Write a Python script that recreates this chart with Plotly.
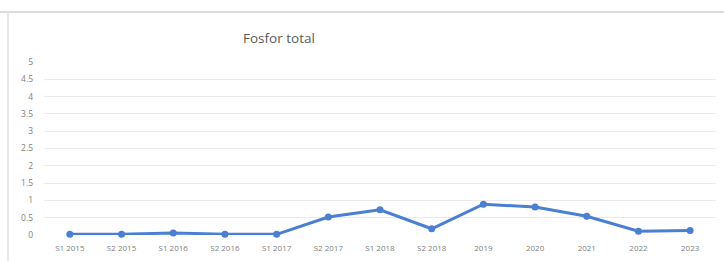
import plotly.graph_objects as go

categories = ["S1 2015", "S2 2015", "S1 2016", "S2 2016", "S1 2017", "S2 2017",
              "S1 2018", "S2 2018", "2019", "2020", "2021", "2022", "2023"]
values = [0.02, 0.02, 0.06, 0.02, 0.02, 0.52, 0.73, 0.18, 0.89, 0.81, 0.54, 0.11, 0.13]
y_ticks = [0, 0.5, 1, 1.5, 2, 2.5, 3, 3.5, 4, 4.5, 5]
y_tick_labels = ["0", "0.5", "1", "1.5", "2", "2.5", "3", "3.5", "4", "4.5", "5"]
title_text = "Fosfor total"

W, H = 724, 261
L, R, T, B = 44, 8, 62, 26
pw = W - L - R
ph = H - T - B


def px_x(x):
    return (x - L) / pw


def px_y(y):
    return (H - B - y) / ph


fig = go.Figure()
fig.add_trace(go.Scatter(
    x=categories, y=values, mode="lines+markers",
    line=dict(color="#4a7fd2", width=3),
    marker=dict(color="#4a7fd2", size=7),
    cliponaxis=False, showlegend=False,
))

fig.update_layout(
    width=W, height=H,
    margin=dict(l=L, r=R, t=T, b=B),
    paper_bgcolor="white", plot_bgcolor="white",
    font=dict(family="Open Sans, sans-serif", color="#808080", size=8),
    xaxis=dict(type="category", range=[-0.5, len(categories) - 0.5],
               showgrid=False, showline=False, zeroline=False,
               ticks="", ticklabelstandoff=7,
               tickfont=dict(size=8, color="#7f7f7f")),
    yaxis=dict(range=[0, 5], tickvals=y_ticks, ticktext=y_tick_labels,
               showgrid=True, gridcolor="#ebebeb", gridwidth=1,
               zeroline=False, showline=False, ticks="", ticklabelstandoff=10,
               tickfont=dict(size=8.5, color="#7f7f7f")),
    annotations=[dict(text=title_text, x=px_x(279), y=px_y(38),
                      xref="paper", yref="paper",
                      showarrow=False, font=dict(size=13.5, color="#595959"),
                      xanchor="center", yanchor="middle")],
)

# card border lines
fig.add_shape(type="line", xref="paper", yref="paper",
              x0=px_x(0), x1=px_x(W), y0=px_y(12), y1=px_y(12),
              line=dict(color="#dcdcdc", width=2))
fig.add_shape(type="line", xref="paper", yref="paper",
              x0=px_x(8), x1=px_x(8), y0=px_y(12), y1=px_y(H),
              line=dict(color="#e2e2e2", width=1.5))

fig.write_html("out.html",
               config={"displayModeBar": False},
               post_script="document.body.style.margin='0';document.body.style.overflow='hidden';")
